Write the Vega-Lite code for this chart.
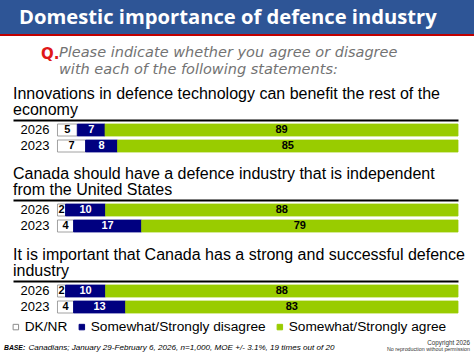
{
  "$schema": "https://vega.github.io/schema/vega-lite/v6.json",
  "padding": 0,
  "background": "#FFFFFF",
  "bounds": "flush",
  "spacing": 0,
  "datasets": {
    "categories": [
      {"cat": "DK/NR", "rank": 1},
      {"cat": "Somewhat/Strongly disagree", "rank": 2},
      {"cat": "Somewhat/Strongly agree", "rank": 3}
    ],
    "survey": [
      {"item": "innovation", "year": "2026", "cat": "DK/NR", "pct": 5},
      {"item": "innovation", "year": "2026", "cat": "Somewhat/Strongly disagree", "pct": 7},
      {"item": "innovation", "year": "2026", "cat": "Somewhat/Strongly agree", "pct": 89},
      {"item": "innovation", "year": "2023", "cat": "DK/NR", "pct": 7},
      {"item": "innovation", "year": "2023", "cat": "Somewhat/Strongly disagree", "pct": 8},
      {"item": "innovation", "year": "2023", "cat": "Somewhat/Strongly agree", "pct": 85},
      {"item": "independent", "year": "2026", "cat": "DK/NR", "pct": 2},
      {"item": "independent", "year": "2026", "cat": "Somewhat/Strongly disagree", "pct": 10},
      {"item": "independent", "year": "2026", "cat": "Somewhat/Strongly agree", "pct": 88},
      {"item": "independent", "year": "2023", "cat": "DK/NR", "pct": 4},
      {"item": "independent", "year": "2023", "cat": "Somewhat/Strongly disagree", "pct": 17},
      {"item": "independent", "year": "2023", "cat": "Somewhat/Strongly agree", "pct": 79},
      {"item": "strong", "year": "2026", "cat": "DK/NR", "pct": 2},
      {"item": "strong", "year": "2026", "cat": "Somewhat/Strongly disagree", "pct": 10},
      {"item": "strong", "year": "2026", "cat": "Somewhat/Strongly agree", "pct": 88},
      {"item": "strong", "year": "2023", "cat": "DK/NR", "pct": 4},
      {"item": "strong", "year": "2023", "cat": "Somewhat/Strongly disagree", "pct": 13},
      {"item": "strong", "year": "2023", "cat": "Somewhat/Strongly agree", "pct": 83}
    ]
  },
  "config": {
    "view": {"stroke": null},
    "font": "Liberation Sans",
    "title": {"frame": "group", "anchor": "start", "baseline": "top", "fontWeight": "normal", "color": "#000000"}
  },
  "vconcat": [
    {
      "width": 474, "height": 34,
      "data": {"values": [{}]},
      "mark": {"type": "rect", "color": "#2E5596"},
      "encoding": {},
      "title": {"text": "Domestic importance of defence industry", "orient": "bottom", "offset": -26, "dx": 19, "color": "#FFFFFF", "font": "Open Sans", "fontSize": 20.2, "fontWeight": "bold"}
    },
    {
      "width": 474, "height": 2,
      "data": {"values": [{}]},
      "mark": {"type": "rect", "color": "#C00000"},
      "encoding": {},
      "title": {"text": ["Please indicate whether you agree or disagree", "with each of the following statements:"], "orient": "bottom", "offset": 9.5, "dx": 59, "color": "#737373", "font": "DejaVu Sans", "fontSize": 14.5, "fontStyle": "italic", "lineHeight": 17}
    },
    {
      "width": 474, "height": 84,
      "data": {"values": [{}]},
      "mark": {"type": "rect", "opacity": 0},
      "encoding": {},
      "title": {"text": "Q.", "orient": "bottom", "offset": -73.5, "dx": 41, "color": "#E01818", "font": "DejaVu Sans", "fontSize": 15, "fontWeight": "bold"}
    },
    {
      "width": 474, "height": 80,
      "data": {"name": "survey"},
      "transform": [
        {"filter": "datum.item === 'innovation'"},
        {"lookup": "cat", "from": {"data": {"name": "categories"}, "key": "cat", "fields": ["rank"]}}
      ],
      "title": {"text": ["Innovations in defence technology can benefit the rest of the", "economy"], "orient": "top", "offset": 2, "dx": 13, "fontSize": 16, "lineHeight": 16, "font": "Liberation Sans"},
      "encoding": {
        "y": {"field": "year", "type": "nominal", "sort": ["2026", "2023"], "scale": {"range": [4, 32], "paddingInner": 0.25, "paddingOuter": 0}, "axis": {"orient": "left", "offset": -50, "title": null, "domain": false, "ticks": false, "labelPadding": 1, "labelFontSize": 13, "labelColor": "#000000", "labelFont": "Liberation Sans"}},
        "x": {"field": "pct", "type": "quantitative", "stack": "normalize", "scale": {"domain": [-0.1111, 1], "range": [13, 458], "nice": false, "zero": false}, "axis": {"orient": "top", "title": null, "labels": false, "ticks": false, "grid": false, "domain": true, "domainColor": "#000000", "domainWidth": 2}},
        "order": {"field": "rank", "type": "quantitative"}
      },
      "layer": [
        {
          "mark": {"type": "bar", "strokeWidth": 0.8},
          "encoding": {
            "color": {"field": "cat", "type": "nominal", "scale": {"domain": ["DK/NR", "Somewhat/Strongly disagree", "Somewhat/Strongly agree"], "range": ["#FFFFFF", "#000080", "#99CC00"]},
              "legend": {"title": null, "orient": "none", "legendX": 9, "legendY": 320, "direction": "horizontal", "symbolType": "square", "symbolSize": 30, "symbolStrokeWidth": 1, "labelFont": "Liberation Sans", "labelFontSize": 13.7, "labelColor": "#000000", "labelOffset": 2, "labelLimit": 0, "columnPadding": 7, "padding": 0}},
            "stroke": {"field": "cat", "type": "nominal", "scale": {"domain": ["DK/NR", "Somewhat/Strongly disagree", "Somewhat/Strongly agree"], "range": ["#8C8C8C", "#000080", "#99CC00"]},
              "legend": {"title": null, "orient": "none", "legendX": 9, "legendY": 320, "direction": "horizontal", "symbolType": "square", "symbolSize": 30, "symbolStrokeWidth": 1, "labelFont": "Liberation Sans", "labelFontSize": 13.7, "labelColor": "#000000", "labelOffset": 2, "labelLimit": 0, "columnPadding": 7, "padding": 0}}
          }
        },
        {
          "mark": {"type": "text", "font": "Liberation Sans", "fontSize": 11, "fontWeight": "bold", "align": "center", "baseline": "middle"},
          "encoding": {
            "x": {"field": "pct", "type": "quantitative", "stack": "normalize", "bandPosition": 0.5},
            "text": {"field": "pct", "type": "quantitative"},
            "fill": {"field": "cat", "type": "nominal", "scale": {"domain": ["DK/NR", "Somewhat/Strongly disagree", "Somewhat/Strongly agree"], "range": ["#000000", "#FFFFFF", "#000000"]}, "legend": null}
          }
        }
      ]
    },
    {
      "width": 474, "height": 81,
      "data": {"name": "survey"},
      "transform": [
        {"filter": "datum.item === 'independent'"},
        {"lookup": "cat", "from": {"data": {"name": "categories"}, "key": "cat", "fields": ["rank"]}}
      ],
      "title": {"text": ["Canada should have a defence industry that is independent", "from the United States"], "orient": "top", "offset": 2, "dx": 13, "fontSize": 16, "lineHeight": 16, "font": "Liberation Sans"},
      "encoding": {
        "y": {"field": "year", "type": "nominal", "sort": ["2026", "2023"], "scale": {"range": [4, 32], "paddingInner": 0.25, "paddingOuter": 0}, "axis": {"orient": "left", "offset": -50, "title": null, "domain": false, "ticks": false, "labelPadding": 1, "labelFontSize": 13, "labelColor": "#000000", "labelFont": "Liberation Sans"}},
        "x": {"field": "pct", "type": "quantitative", "stack": "normalize", "scale": {"domain": [-0.1111, 1], "range": [13, 458], "nice": false, "zero": false}, "axis": {"orient": "top", "title": null, "labels": false, "ticks": false, "grid": false, "domain": true, "domainColor": "#000000", "domainWidth": 2}},
        "order": {"field": "rank", "type": "quantitative"}
      },
      "layer": [
        {
          "mark": {"type": "bar", "strokeWidth": 0.8},
          "encoding": {
            "color": {"field": "cat", "type": "nominal", "scale": {"domain": ["DK/NR", "Somewhat/Strongly disagree", "Somewhat/Strongly agree"], "range": ["#FFFFFF", "#000080", "#99CC00"]},
              "legend": {"title": null, "orient": "none", "legendX": 9, "legendY": 320, "direction": "horizontal", "symbolType": "square", "symbolSize": 30, "symbolStrokeWidth": 1, "labelFont": "Liberation Sans", "labelFontSize": 13.7, "labelColor": "#000000", "labelOffset": 2, "labelLimit": 0, "columnPadding": 7, "padding": 0}},
            "stroke": {"field": "cat", "type": "nominal", "scale": {"domain": ["DK/NR", "Somewhat/Strongly disagree", "Somewhat/Strongly agree"], "range": ["#8C8C8C", "#000080", "#99CC00"]},
              "legend": {"title": null, "orient": "none", "legendX": 9, "legendY": 320, "direction": "horizontal", "symbolType": "square", "symbolSize": 30, "symbolStrokeWidth": 1, "labelFont": "Liberation Sans", "labelFontSize": 13.7, "labelColor": "#000000", "labelOffset": 2, "labelLimit": 0, "columnPadding": 7, "padding": 0}}
          }
        },
        {
          "mark": {"type": "text", "font": "Liberation Sans", "fontSize": 11, "fontWeight": "bold", "align": "center", "baseline": "middle"},
          "encoding": {
            "x": {"field": "pct", "type": "quantitative", "stack": "normalize", "bandPosition": 0.5},
            "text": {"field": "pct", "type": "quantitative"},
            "fill": {"field": "cat", "type": "nominal", "scale": {"domain": ["DK/NR", "Somewhat/Strongly disagree", "Somewhat/Strongly agree"], "range": ["#000000", "#FFFFFF", "#000000"]}, "legend": null}
          }
        }
      ]
    },
    {
      "width": 474, "height": 37,
      "data": {"name": "survey"},
      "transform": [
        {"filter": "datum.item === 'strong'"},
        {"lookup": "cat", "from": {"data": {"name": "categories"}, "key": "cat", "fields": ["rank"]}}
      ],
      "title": {"text": ["It is important that Canada has a strong and successful defence", "industry"], "orient": "top", "offset": 2, "dx": 13, "fontSize": 16, "lineHeight": 16, "font": "Liberation Sans"},
      "encoding": {
        "y": {"field": "year", "type": "nominal", "sort": ["2026", "2023"], "scale": {"range": [4, 32], "paddingInner": 0.25, "paddingOuter": 0}, "axis": {"orient": "left", "offset": -50, "title": null, "domain": false, "ticks": false, "labelPadding": 1, "labelFontSize": 13, "labelColor": "#000000", "labelFont": "Liberation Sans"}},
        "x": {"field": "pct", "type": "quantitative", "stack": "normalize", "scale": {"domain": [-0.1111, 1], "range": [13, 458], "nice": false, "zero": false}, "axis": {"orient": "top", "title": null, "labels": false, "ticks": false, "grid": false, "domain": true, "domainColor": "#000000", "domainWidth": 2}},
        "order": {"field": "rank", "type": "quantitative"}
      },
      "layer": [
        {
          "mark": {"type": "bar", "strokeWidth": 0.8},
          "encoding": {
            "color": {"field": "cat", "type": "nominal", "scale": {"domain": ["DK/NR", "Somewhat/Strongly disagree", "Somewhat/Strongly agree"], "range": ["#FFFFFF", "#000080", "#99CC00"]},
              "legend": {"title": null, "orient": "none", "legendX": 9, "legendY": 320, "direction": "horizontal", "symbolType": "square", "symbolSize": 30, "symbolStrokeWidth": 1, "labelFont": "Liberation Sans", "labelFontSize": 13.7, "labelColor": "#000000", "labelOffset": 2, "labelLimit": 0, "columnPadding": 7, "padding": 0}},
            "stroke": {"field": "cat", "type": "nominal", "scale": {"domain": ["DK/NR", "Somewhat/Strongly disagree", "Somewhat/Strongly agree"], "range": ["#8C8C8C", "#000080", "#99CC00"]},
              "legend": {"title": null, "orient": "none", "legendX": 9, "legendY": 320, "direction": "horizontal", "symbolType": "square", "symbolSize": 30, "symbolStrokeWidth": 1, "labelFont": "Liberation Sans", "labelFontSize": 13.7, "labelColor": "#000000", "labelOffset": 2, "labelLimit": 0, "columnPadding": 7, "padding": 0}}
          }
        },
        {
          "mark": {"type": "text", "font": "Liberation Sans", "fontSize": 11, "fontWeight": "bold", "align": "center", "baseline": "middle"},
          "encoding": {
            "x": {"field": "pct", "type": "quantitative", "stack": "normalize", "bandPosition": 0.5},
            "text": {"field": "pct", "type": "quantitative"},
            "fill": {"field": "cat", "type": "nominal", "scale": {"domain": ["DK/NR", "Somewhat/Strongly disagree", "Somewhat/Strongly agree"], "range": ["#000000", "#FFFFFF", "#000000"]}, "legend": null}
          }
        }
      ]
    },
    {
      "width": 474, "height": 13,
      "data": {"values": [{}]},
      "mark": {"type": "rect", "opacity": 0},
      "encoding": {},
      "title": {"text": "Copyright 2026", "subtitle": "No reproduction without permission", "orient": "bottom", "anchor": "end", "offset": 8.5, "dx": -4, "color": "#333333", "font": "Liberation Sans", "fontSize": 6.3, "subtitleFont": "Liberation Sans", "subtitleFontSize": 5.3, "subtitleColor": "#333333", "subtitlePadding": 1}
    },
    {
      "width": 474, "height": 12,
      "data": {"values": [{}]},
      "mark": {"type": "rect", "opacity": 0},
      "encoding": {},
      "title": {"text": "BASE:", "orient": "bottom", "offset": 1.5, "dx": 4, "color": "#000000", "font": "Liberation Sans", "fontSize": 6.8, "fontWeight": "bold", "fontStyle": "italic"}
    },
    {
      "width": 474, "height": 13,
      "data": {"values": [{}]},
      "mark": {"type": "rect", "opacity": 0},
      "encoding": {},
      "title": {"text": "Canadians; January 29-February 6, 2026, n=1,000, MOE +/- 3.1%, 19 times out of 20", "orient": "bottom", "offset": -12.2, "dx": 28.5, "color": "#000000", "font": "Liberation Sans", "fontSize": 8.1, "fontStyle": "italic"}
    }
  ]
}
